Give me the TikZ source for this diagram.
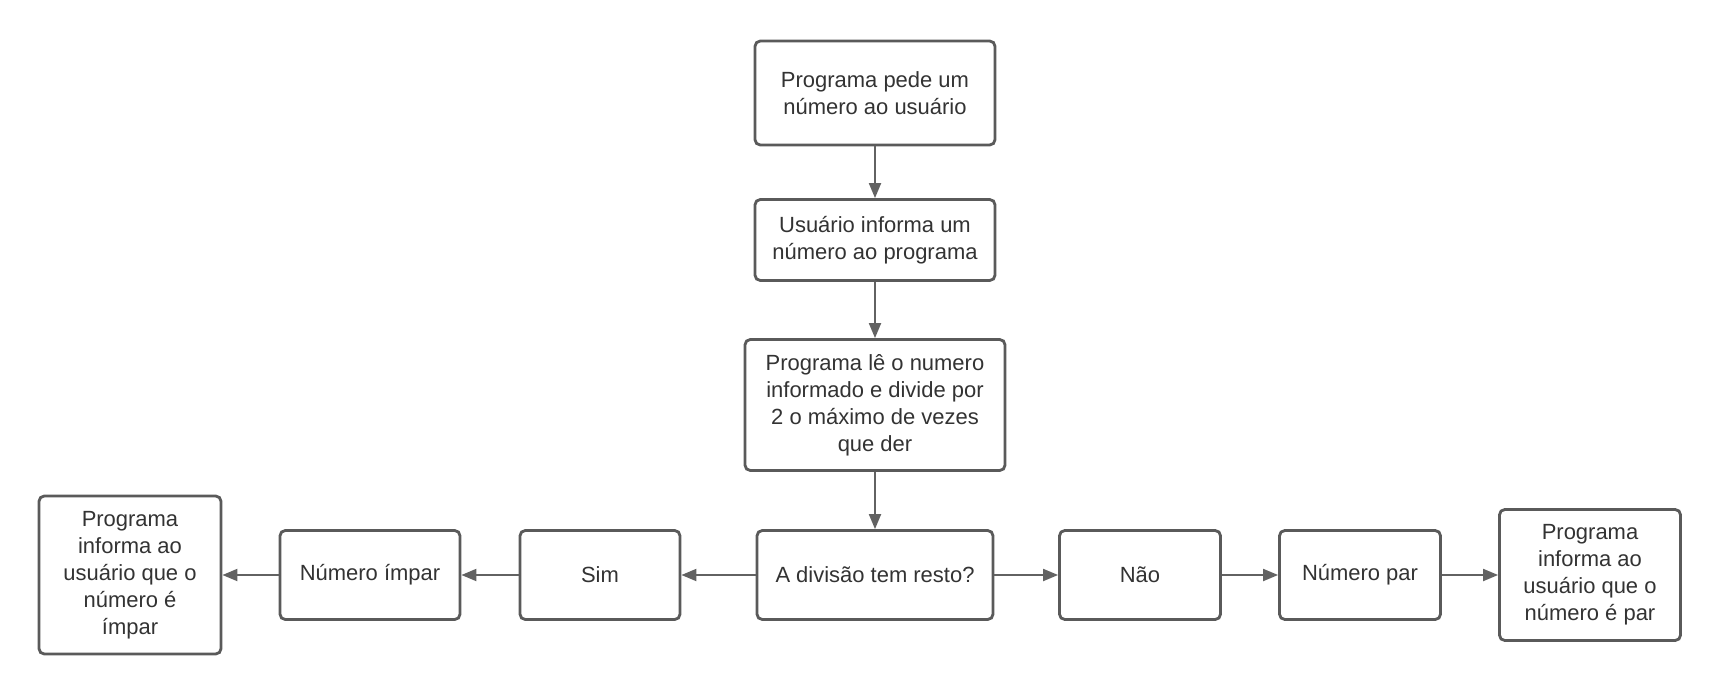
\documentclass[tikz,border=0pt]{standalone}
\usepackage{fontspec}
\setmainfont{Liberation Sans}
\usetikzlibrary{arrows.meta}
\definecolor{borda}{HTML}{5A5A5A}
\definecolor{linha}{HTML}{626262}
\definecolor{texto}{HTML}{333333}
\tikzset{
    box/.style={draw=borda,line width=1.6pt,rounded corners=3pt,fill=white,text=texto,align=center,
        font=\fontsize{12.5}{15.3}\selectfont,inner sep=0pt},
    seta/.style={draw=linha,line width=1.1pt,-{Triangle[length=0.3cm,width=0.24cm]}}
}
\begin{document}
\begin{tikzpicture}
\useasboundingbox (0,0) rectangle (34.4,-13.88);
\node[box,minimum width=4.8cm,minimum height=2.08cm] at (17.5,-1.86)(pede){Programa pede um\\número ao usuário};
\node[box,minimum width=4.8cm,minimum height=1.62cm] at (17.5,-4.8)(informa){Usuário informa um\\número ao programa};
\node[box,minimum width=5.2cm,minimum height=2.62cm] at (17.5,-8.1)(divide){Programa lê o numero\\informado e divide por\\2 o máximo de vezes\\que der};
\node[box,minimum width=4.72cm,minimum height=1.78cm] at (17.5,-11.5)(resto){A divisão tem resto?};
\node[box,minimum width=3.2cm,minimum height=1.78cm] at (12,-11.5)(sim){Sim};
\node[box,minimum width=3.6cm,minimum height=1.78cm] at (7.4,-11.5)(impar){Número ímpar};
\node[box,minimum width=3.64cm,minimum height=3.16cm] at (2.6,-11.5)(fimImpar){Programa\\informa ao\\usuário que o\\número é\\ímpar};
\node[box,minimum width=3.22cm,minimum height=1.78cm] at (22.8,-11.5)(nao){Não};
\node[box,minimum width=3.22cm,minimum height=1.78cm] at (27.2,-11.5)(par){Número par};
\node[box,minimum width=3.62cm,minimum height=2.62cm] at (31.8,-11.5)(fimPar){Programa\\informa ao\\usuário que o\\número é par};
\path[seta] (pede) -- (informa);
\path[seta] (informa) -- (divide);
\path[seta] (divide) -- (resto);
\path[seta] (resto) -- (sim);
\path[seta] (sim) -- (impar);
\path[seta] (impar) -- (fimImpar);
\path[seta] (resto) -- (nao);
\path[seta] (nao) -- (par);
\path[seta] (par) -- (fimPar);
\end{tikzpicture}
\end{document}
